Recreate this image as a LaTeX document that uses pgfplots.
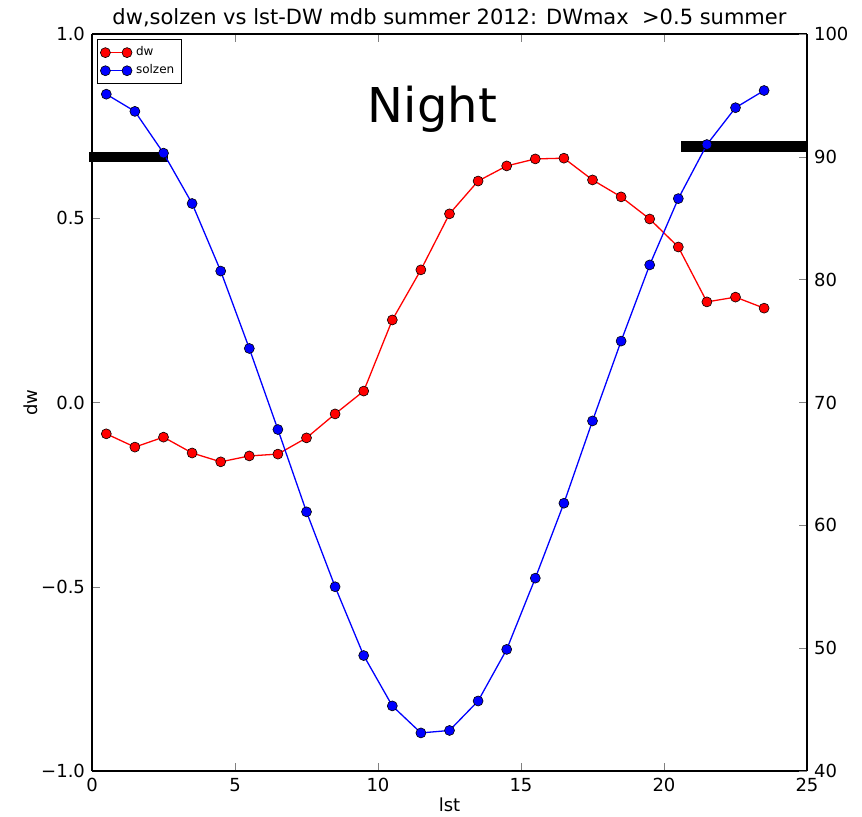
\documentclass[border=0pt]{standalone}
\usepackage{pgfplots}
\pgfplotsset{compat=1.18}
\usepackage{fontspec}
\setmainfont{DejaVu Sans}

\begin{document}
\begin{tikzpicture}
\pgfplotsset{
  every axis/.append style={
    scale only axis,
    width=357.5pt, height=368.5pt,
    xmin=0, xmax=25,
    tick align=inside,
    major tick length=4pt,
    tick label style={font=\fontsize{9}{10}\selectfont},
    label style={font=\fontsize{9}{10}\selectfont},
    axis line style={line width=0.6pt},
    /pgf/number format/assume math mode=true,
  }
}
\begin{axis}[
  ymin=-1, ymax=1,
  axis y line*=left,
  xtick={0,5,10,15,20,25},
  xtick pos=both,
  ytick={-1,-0.5,0,0.5,1},
  yticklabels={−1.0,−0.5,0.0,0.5,1.0},
  xlabel={lst}, ylabel={dw},
  xlabel style={yshift=4pt},
  ylabel style={yshift=-5pt},
  title={dw,solzen vs lst-DW mdb summer 2012: DWmax \ >0.5 summer},
  title style={font=\fontsize{10.5}{12}\selectfont, yshift=-6pt},
  clip=false,
  legend style={at={(0.007,0.993)}, anchor=north west, font=\fontsize{6}{7}\selectfont,
    draw=black, line width=0.4pt, inner sep=1.5pt, row sep=-1pt},
  legend cell align=left,
  legend image code/.code={\draw[mark repeat=1] plot coordinates {(0cm,0cm) (0.38cm,0cm)};},
]
\addplot[red, line width=0.65pt, mark=*, mark size=2.5pt,
  mark options={fill=red, draw=black, line width=0.3pt}] coordinates {
(0.5,-0.085) (1.5,-0.121) (2.5,-0.094) (3.5,-0.137) (4.5,-0.161) (5.5,-0.145)
(6.5,-0.140) (7.5,-0.096) (8.5,-0.031) (9.5,0.031) (10.5,0.224) (11.5,0.360)
(12.5,0.512) (13.5,0.601) (14.5,0.642) (15.5,0.661) (16.5,0.663) (17.5,0.604)
(18.5,0.558) (19.5,0.498) (20.5,0.422) (21.5,0.273) (22.5,0.286) (23.5,0.256)
};
\addlegendentry{dw}
\addlegendimage{blue, line width=0.65pt, mark=*, mark size=2.5pt,
  mark options={fill=blue, draw=black, line width=0.3pt}}
\addlegendentry{solzen}
\addplot[black, line width=5pt, forget plot] coordinates {(-0.1,0.665) (2.65,0.665)};
\addplot[black, line width=5.5pt, forget plot] coordinates {(20.6,0.695) (25.05,0.695)};
\node[font=\fontsize{24}{28}\selectfont] at (axis cs:11.9,0.795) {Night};
\coordinate (sw) at (rel axis cs:0,0);
\coordinate (ne) at (rel axis cs:1,1);
\end{axis}
\begin{axis}[
  ymin=40, ymax=100,
  axis y line*=right,
  axis x line=none,
  ytick={40,50,60,70,80,90,100},
  clip=false,
]
\addplot[blue, line width=0.65pt, mark=*, mark size=2.5pt,
  mark options={fill=blue, draw=black, line width=0.3pt}] coordinates {
(0.5,95.1) (1.5,93.7) (2.5,90.3) (3.5,86.2) (4.5,80.7) (5.5,74.4)
(6.5,67.8) (7.5,61.1) (8.5,55.0) (9.5,49.4) (10.5,45.3) (11.5,43.1)
(12.5,43.3) (13.5,45.7) (14.5,49.9) (15.5,55.7) (16.5,61.8) (17.5,68.5)
(18.5,75.0) (19.5,81.2) (20.5,86.6) (21.5,91.0) (22.5,94.0) (23.5,95.4)
};
\end{axis}
\pgfresetboundingbox
\path ([xshift=-46pt,yshift=-22.5pt]sw) rectangle ([xshift=27.5pt,yshift=17pt]ne);
\end{tikzpicture}
\end{document}
